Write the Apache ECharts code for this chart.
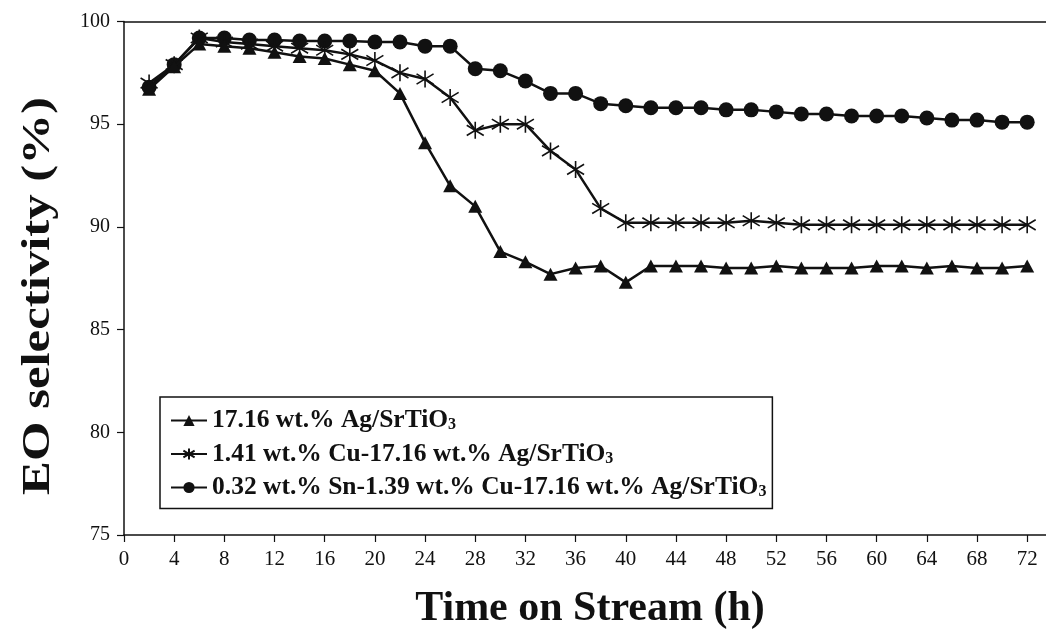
<!DOCTYPE html>
<html>
<head>
<meta charset="utf-8">
<script src="https://cdn.jsdelivr.net/npm/echarts@6/dist/echarts.min.js"></script>
<style>
html,body{margin:0;padding:0;background:#fff;}
#chart{width:1046px;height:635px;}
</style>
</head>
<body>
<div id="chart"></div>
<script>
// Time on stream (h)
var hours = [2,4,6,8,10,12,14,16,18,20,22,24,26,28,30,32,34,36,38,40,42,44,46,48,50,52,54,56,58,60,62,64,66,68,70,72];
// 17.16 wt.% Ag/SrTiO3
var agValues = [96.7,97.8,98.9,98.8,98.7,98.5,98.3,98.2,97.9,97.6,96.5,94.1,92.0,91.0,88.8,88.3,87.7,88.0,88.1,87.3,88.1,88.1,88.1,88.0,88.0,88.1,88.0,88.0,88.0,88.1,88.1,88.0,88.1,88.0,88.0,88.1];
// 1.41 wt.% Cu-17.16 wt.% Ag/SrTiO3
var cuValues = [97.0,97.9,99.2,99.0,98.9,98.8,98.7,98.6,98.4,98.1,97.5,97.2,96.3,94.7,95.0,95.0,93.7,92.8,90.9,90.2,90.2,90.2,90.2,90.2,90.3,90.2,90.1,90.1,90.1,90.1,90.1,90.1,90.1,90.1,90.1,90.1];
// 0.32 wt.% Sn-1.39 wt.% Cu-17.16 wt.% Ag/SrTiO3
var snValues = [96.8,97.9,99.2,99.2,99.1,99.1,99.05,99.05,99.05,99.0,99.0,98.8,98.8,97.7,97.6,97.1,96.5,96.5,96.0,95.9,95.8,95.8,95.8,95.7,95.7,95.6,95.5,95.5,95.4,95.4,95.4,95.3,95.2,95.2,95.1,95.1];
var seriesNames = ['17.16 wt.% Ag/SrTiO3','1.41 wt.% Cu-17.16 wt.% Ag/SrTiO3','0.32 wt.% Sn-1.39 wt.% Cu-17.16 wt.% Ag/SrTiO3'];
var xTickValues = [0,4,8,12,16,20,24,28,32,36,40,44,48,52,56,60,64,68,72];
var xTitle = 'Time on Stream (h)';
var yTitle = 'EO selectivity (%)';

function pairs(vals){ return hours.map(function(h,i){ return [h, vals[i]]; }); }

var FONT = 'Liberation Serif';
var INK = '#111';
var starPath = 'path://M10,0 L10,20 M2,4 L18,16 M2,16 L18,4';

var chart = echarts.init(document.getElementById('chart'), null, {renderer:'canvas'});
chart.setOption({
  animation:false,
  backgroundColor:'#fff',
  grid:{left:124, right:0, top:21.5, bottom:93.5, containLabel:false},
  graphic:[{
    type:'text', x:39, y:296, rotation:Math.PI/2, scaleX:1.27, scaleY:1,
    style:{text:yTitle, fontFamily:FONT, fontWeight:'bold', fontSize:40, fill:INK, align:'center', verticalAlign:'middle'}
  }],
  xAxis:[{
    type:'value', min:0, max:73.5,
    name:xTitle, nameLocation:'middle', nameGap:53,
    nameTextStyle:{fontFamily:FONT, fontWeight:'bold', fontSize:42, color:INK, padding:[0,0,0,10]},
    axisLine:{show:true, onZero:false, lineStyle:{color:INK, width:1.5}},
    axisTick:{show:true, inside:false, length:7, customValues:xTickValues, lineStyle:{color:INK, width:1.2}},
    axisLabel:{customValues:xTickValues, margin:14, fontFamily:FONT, fontSize:21, color:INK},
    splitLine:{show:false}
  },{
    type:'value', position:'top', min:0, max:73.5,
    axisLine:{show:true, lineStyle:{color:INK, width:1.5}},
    axisTick:{show:false}, axisLabel:{show:false}, splitLine:{show:false}
  }],
  yAxis:{
    type:'value', min:75, max:100, interval:5,
    axisLine:{show:true, lineStyle:{color:INK, width:1.5}},
    axisTick:{show:true, length:7, lineStyle:{color:INK, width:1.2}},
    axisLabel:{margin:14, fontFamily:FONT, fontSize:20, color:INK},
    splitLine:{show:false}
  },
  legend:{
    orient:'vertical', left:160, top:397,
    padding:[10,6,8,10], itemGap:7, itemWidth:36, itemHeight:14,
    borderColor:INK, borderWidth:1.5, backgroundColor:'#fff',
    formatter:function(n){ return n.replace('SrTiO3','SrTiO{sub|3}'); },
    textStyle:{fontFamily:FONT, fontWeight:'bold', fontSize:25.5, color:INK, lineHeight:25,
      rich:{sub:{fontFamily:FONT, fontWeight:'bold', fontSize:16, color:INK, lineHeight:25, verticalAlign:'bottom', padding:[10,0,0,0]}}},
    data:seriesNames
  },
  series:[
    {name:seriesNames[0], type:'line', data:pairs(agValues), symbol:'triangle', symbolSize:[14,13],
     lineStyle:{color:INK, width:2.5}, itemStyle:{color:INK}, z:3},
    {name:seriesNames[1], type:'line', data:pairs(cuValues), symbol:starPath, symbolSize:17,
     lineStyle:{color:INK, width:2.5}, itemStyle:{color:'transparent', borderColor:INK, borderWidth:1.6}, z:2},
    {name:seriesNames[2], type:'line', data:pairs(snValues), symbol:'circle', symbolSize:15,
     lineStyle:{color:INK, width:2.5}, itemStyle:{color:INK}, z:1}
  ]
});
</script>
</body>
</html>
